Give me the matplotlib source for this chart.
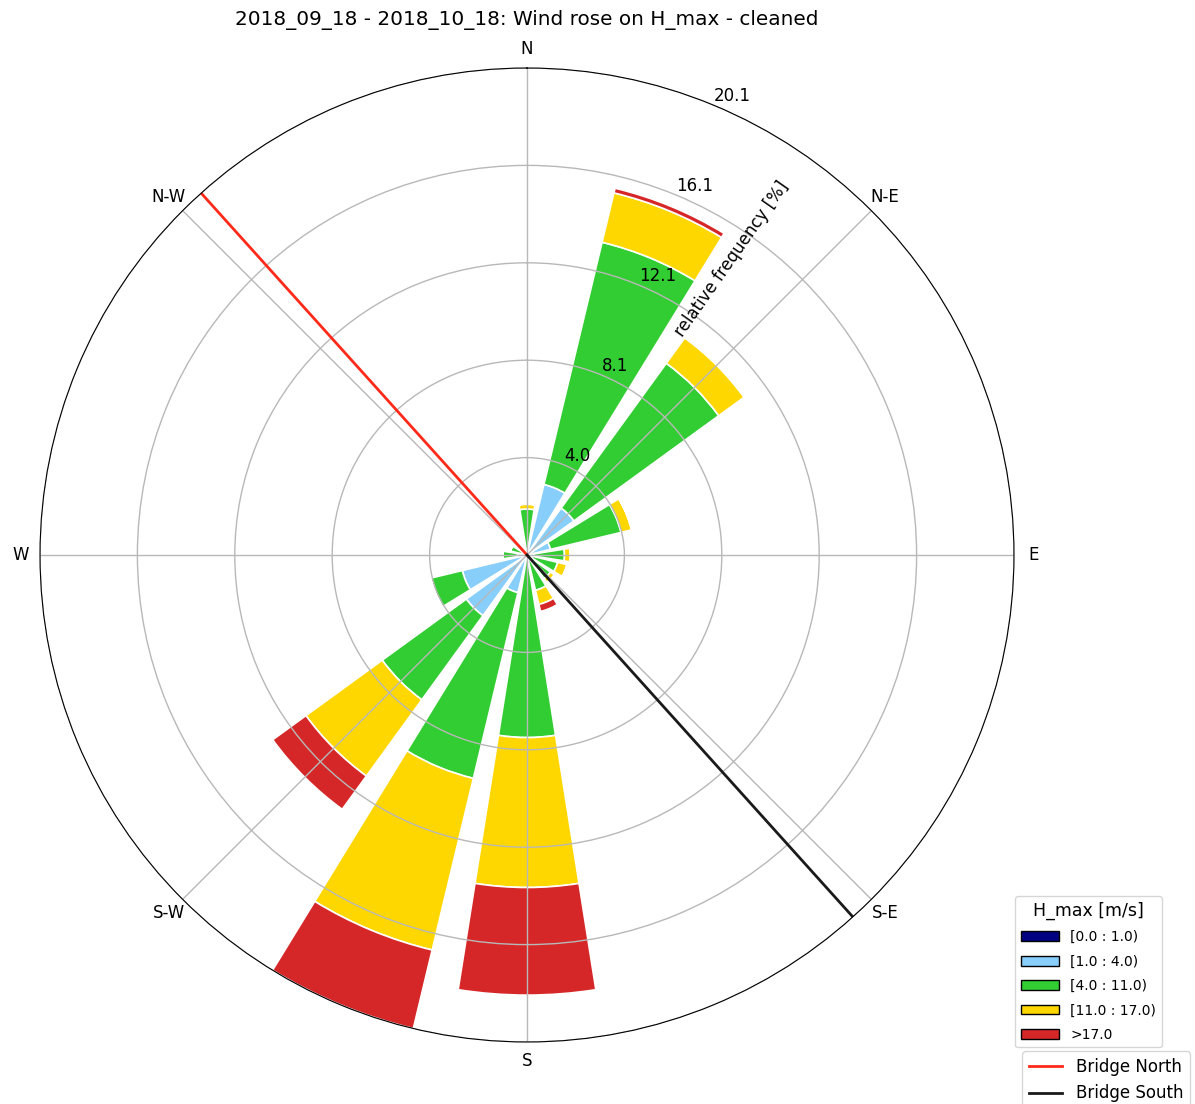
import numpy as np
import matplotlib

matplotlib.use("Agg")
import matplotlib.pyplot as plt
from matplotlib.patches import Patch
from matplotlib.lines import Line2D

# 16 sectors, bearing in degrees (clockwise from north)
sector_deg = [0, 22.5, 45, 67.5, 90, 112.5, 135, 157.5, 180, 202.5, 225, 247.5, 270, 292.5, 315, 337.5]

# relative frequency [%] per speed bin and sector
bin_labels = ["[0.0 : 1.0)", "[1.0 : 4.0)", "[4.0 : 11.0)", "[11.0 : 17.0)", ">17.0"]
bin_colors = ["#000080", "#87cefa", "#32cd32", "#ffd700", "#d62728"]
freq_0_1 = [0, 0, 0, 0, 0, 0, 0, 0, 0, 0, 0, 0, 0, 0, 0, 0]
freq_1_4 = [0.1, 3.0, 2.4, 1.0, 0.3, 0.2, 0.1, 0.1, 0.1, 1.6, 3.1, 2.75, 0.4, 0.2, 0.1, 0.1]
freq_4_11 = [1.8, 10.3, 7.4, 3.0, 1.25, 1.1, 1.1, 1.4, 7.45, 7.9, 4.3, 1.35, 0.6, 0.5, 0.1, 0.2]
freq_11_17 = [0.2, 2.1, 1.3, 0.45, 0.25, 0.4, 0.2, 0.6, 6.2, 7.3, 3.9, 0.0, 0, 0, 0, 0]
freq_17_up = [0, 0.2, 0.05, 0, 0, 0, 0, 0.3, 4.45, 3.34, 1.7, 0, 0, 0, 0, 0]

theta_labels = ["N", "N-E", "E", "S-E", "S", "S-W", "W", "N-W"]

# bridge orientation (bearing in degrees)
bridge_north_deg = 318
bridge_south_deg = 138

title = "2018_09_18 - 2018_10_18: Wind rose on H_max - cleaned"

series = [freq_0_1, freq_1_4, freq_4_11, freq_11_17, freq_17_up]
theta = np.radians(sector_deg)
width = np.radians(22.5 * 0.8)
rmax = np.sum(series, axis=0).max()

fig = plt.figure(figsize=(11.95, 11.04), dpi=100)
ax = fig.add_axes([40 / 1195, 62 / 1104, 974 / 1195, 974 / 1104], projection="polar")
ax.set_theta_zero_location("N")
ax.set_theta_direction(-1)

offset = np.zeros(len(sector_deg))
for values, color in zip(series, bin_colors):
    values = np.array(values, dtype=float)
    ax.bar(theta, values, width=width, bottom=offset, color=color, edgecolor="white", linewidth=1.2, zorder=1)
    offset += values

ax.plot([0, np.radians(bridge_north_deg)], [0, rmax], color="#ff2a1a", linewidth=2, zorder=3)
ax.plot([0, np.radians(bridge_south_deg)], [0, rmax], color="#1a1a1a", linewidth=2, zorder=3)

ax.set_ylim(0, rmax)
radii = np.linspace(0, rmax, 6)[1:]
ax.set_rgrids(radii, ["%.1f" % r for r in radii], angle=22.5, fontsize=12)
ax.set_thetagrids(np.arange(0, 360, 45), theta_labels, fontsize=12)
ax.grid(True, color="#b8b8b8", linewidth=1)
ax.set_axisbelow(False)
ax.spines["polar"].set_zorder(4)
ax.text(np.radians(34.7), 14.9, "relative frequency [%]", rotation=55, ha="center", va="center", fontsize=12)
fig.text(527 / 1195, 1 - 20 / 1104, title, ha="center", va="center", fontsize=14.4)

bin_handles = [Patch(facecolor=c, edgecolor="black", label=l) for c, l in zip(bin_colors, bin_labels)]
fig.legend(handles=bin_handles, title="H_max [m/s]", loc="upper left", bbox_to_anchor=(1008 / 1195, 1 - 889 / 1104),
           fontsize=10, title_fontsize=12.5, handlelength=2.8, labelspacing=0.75)
bridge_handles = [Line2D([], [], color="#ff2a1a", linewidth=2, label="Bridge North"),
                  Line2D([], [], color="#1a1a1a", linewidth=2, label="Bridge South")]
fig.legend(handles=bridge_handles, loc="upper left", bbox_to_anchor=(1014 / 1195, 1 - 1043 / 1104), fontsize=12)

fig.savefig("out.png", dpi=100)
